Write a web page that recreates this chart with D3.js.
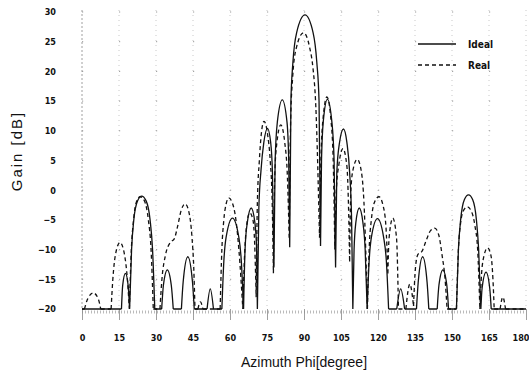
<!DOCTYPE html>
<html>
<head>
<meta charset="utf-8">
<script src="https://cdn.jsdelivr.net/npm/d3@7"></script>
<style>
  body { margin: 0; background: #fff; }
  svg { display: block; }
  .tick-label { font-family: "Liberation Sans Narrow", "DejaVu Sans Condensed", sans-serif; font-size: 9px; font-weight: bold; fill: #111; }
  .title { font-family: "Liberation Sans", Arial, sans-serif; font-size: 14px; fill: #111; }
</style>
</head>
<body>
<svg id="chart" width="529" height="378"></svg>
<script>
// tick values
var xTicks = [0, 15, 30, 45, 60, 75, 90, 105, 120, 135, 150, 165, 180];
var yTicks = [-20, -15, -10, -5, 0, 5, 10, 15, 20, 25, 30];

// [azimuth deg, gain dB]
var ideal = [
  [0, -20], [16, -20],
  [16.5, -16], [17.6, -14], [18.7, -16], [19.3, -20],
  [20.1, -10], [21, -5], [22.5, -1.8], [24.2, -1], [26, -1.8], [27.6, -5], [28.6, -10], [29.5, -20],
  [32.3, -20], [33, -16], [34.6, -13.4], [36.2, -16], [37, -20],
  [40.3, -20], [41, -15.5], [42.9, -11.2], [44.8, -15.5], [45.5, -20],
  [50.7, -20], [52, -16.6], [53.3, -20],
  [56.7, -20], [57.5, -12], [58.4, -8], [61, -4.7], [63.6, -8], [64.6, -12], [65.5, -20],
  [66.1, -10], [67, -5.5], [68.6, -3], [70.1, -5.5], [70.8, -10], [71.1, -20],
  [71.7, -3], [72.6, 3.5], [73.7, 8], [75.2, 10.4], [76.5, 8], [77.2, 3], [77.8, -13],
  [78.3, 5], [79.2, 11.5], [81.2, 15.2], [83.1, 11.5], [83.8, 5], [84.2, -9.6],
  [84.7, 15], [85.5, 21.5], [87, 26.5], [90.4, 29.5], [93.7, 26.5], [95.2, 21.5], [96.1, 15], [96.7, -9.4],
  [97.1, 5], [97.8, 11.5], [99.5, 15.3], [101.3, 11.5], [102.2, 5], [102.8, -13],
  [103.3, 3], [104.4, 8], [106, 10.3], [107.4, 8], [108.5, 3], [109.3, -5], [109.8, -20],
  [110.3, -10], [111, -5.5], [112.4, -3], [113.9, -5.5], [114.8, -10], [115.6, -20],
  [116.4, -12], [117.3, -8], [119.8, -4.8], [122.3, -8], [123.4, -12], [124.3, -20],
  [127.6, -20], [129.2, -16.6], [130.8, -20],
  [135.6, -20], [136.3, -15.5], [138.1, -11.2], [139.9, -15.5], [140.6, -20],
  [144, -20], [144.7, -16], [146.3, -13.4], [147.9, -16], [148.6, -20],
  [151.8, -20], [152.6, -10], [153.5, -5], [155, -1.6], [156.7, -0.8], [158.4, -1.6], [159.9, -5], [160.8, -10], [161.7, -20],
  [162.2, -16.5], [163.8, -13.8], [165.3, -16.5], [165.9, -20],
  [180, -20]
];

var real = [
  [0, -20], [1, -20],
  [2.3, -18.3], [4.6, -17.3], [6.6, -18.3], [7.6, -20],
  [11.8, -20], [12.5, -15], [13.5, -11], [15.4, -8.8], [17.3, -11], [18.4, -15], [19.2, -20],
  [20, -10], [20.9, -5], [22.2, -1.8], [23.6, -1.1], [25.3, -1.8], [26.9, -5], [28, -10], [28.9, -20],
  [31.6, -20], [32.4, -15], [33.8, -11], [35.8, -8.8], [37.4, -8.2], [38.8, -6], [40.2, -3.4], [41.8, -2.3], [43.3, -3.6], [44.6, -8], [45.3, -13], [45.8, -20],
  [47, -20], [48, -18.8], [49, -20],
  [56, -20], [56.7, -10], [57.5, -5], [58.5, -2.2], [59.5, -1.3], [61, -2.2], [62.4, -5], [63.6, -10], [65.2, -20],
  [65.8, -12], [66.6, -6.5], [68, -3.8], [69.3, -5], [70, -9], [70.6, -18],
  [71.1, -2], [71.9, 5], [72.7, 9.5], [73.8, 11.6], [75.2, 9.5], [76.3, 5], [77.1, -2], [77.6, -14],
  [78.1, 2], [79, 8], [80.6, 11], [82.2, 8], [83.3, 2], [84, -8],
  [84.6, 12], [85.4, 19], [86.8, 23.8], [89.8, 26.5], [92.3, 24], [93.6, 20.7], [94.8, 14], [96.3, -8],
  [96.8, 4], [97.6, 11.5], [99.3, 15.7], [101, 11.5], [101.9, 4], [102.5, -10],
  [103.1, 0], [104.2, 4.5], [105.8, 7], [107.4, 4], [108, -2], [108.5, -12],
  [109, 0], [109.9, 3.5], [111.6, 5.2], [113.3, 3], [114.3, -2], [115.7, -20],
  [116.4, -10], [117.3, -5], [118.8, -1.8], [120.4, -1.1], [122, -2.5], [123.2, -6], [124, -14],
  [124.5, -8], [126, -4.7], [127.5, -8], [128.3, -20],
  [131.3, -20], [132.9, -15.8], [134.4, -19.5],
  [135.2, -13], [136.2, -10.8], [137.8, -10.3], [139.5, -8.5], [141.3, -6.8], [143, -6.4], [144.6, -7.5], [146, -11], [147.2, -15], [148, -20],
  [151.8, -20], [152.6, -10], [153.5, -5.5], [154.8, -3.3], [156.2, -2.8], [157.8, -3.5], [159.3, -6], [160.4, -10], [161.3, -20],
  [162, -14], [163, -11], [164.4, -9.7], [165.8, -11], [166.6, -15], [167.1, -20],
  [169.5, -20], [170.6, -18], [171.7, -20],
  [180, -20]
];

var seriesNames = ["Ideal", "Real"];

var svg = d3.select("#chart");

var x = d3.scaleLinear().domain([0, 180]).range([82, 526]);
var y = d3.scaleLinear().domain([-20, 30]).range([309, 12]);

// grid
var grid = svg.append("g");
grid.selectAll("line.vg")
  .data(xTicks)
  .enter().append("line")
  .attr("x1", function (d) { return x(d); })
  .attr("x2", function (d) { return x(d); })
  .attr("y1", 10)
  .attr("y2", y(-20))
  .attr("stroke", function (d) { return d === 0 ? "#888" : "#bbb"; })
  .attr("stroke-width", 0.8)
  .attr("stroke-dasharray", function (d) { return d === 0 ? "2,2" : "1,4"; });

grid.selectAll("line.hg")
  .data(yTicks.filter(function (d) { return d > -20; }))
  .enter().append("line")
  .attr("x1", x(0))
  .attr("x2", x(180))
  .attr("y1", function (d) { return y(d); })
  .attr("y2", function (d) { return y(d); })
  .attr("stroke", "#999")
  .attr("stroke-width", 1)
  .attr("stroke-dasharray", "1.2," + (x(15) - x(0) - 1.2));

// hatched strip under the floor
svg.append("line")
  .attr("x1", x(0)).attr("x2", x(180))
  .attr("y1", y(-20) + 3).attr("y2", y(-20) + 3)
  .attr("stroke", "#bbb")
  .attr("stroke-width", 3)
  .attr("stroke-dasharray", "1,2");

// x axis ticks + labels
var xAxis = d3.axisBottom(x).tickValues(xTicks).tickSize(11).tickFormat(d3.format("d"));
var gx = svg.append("g")
  .attr("transform", "translate(0," + y(-20) + ")")
  .call(xAxis);
gx.select(".domain").remove();
gx.selectAll(".tick line").attr("stroke", "#888").attr("stroke-width", 0.8);
gx.selectAll(".tick text")
  .attr("class", "tick-label")
  .attr("y", 29)
  .attr("dy", "0.35em")
  .attr("text-anchor", function (d) { return d === 180 ? "end" : "middle"; })
  .attr("x", function (d) { return d === 180 ? 3 : 0; });

// y axis labels
var yAxis = d3.axisLeft(y).tickValues(yTicks).tickSize(0).tickPadding(0).tickFormat(d3.format("d"));
var gy = svg.append("g")
  .attr("transform", "translate(56,0)")
  .call(yAxis);
gy.select(".domain").remove();
gy.selectAll(".tick text").attr("class", "tick-label").attr("x", 0);

// split a series at every local minimum so nulls stay sharp
function pathFor(pts) {
  var cuts = [];
  for (var i = 0; i < pts.length; i++) {
    var prev = i > 0 ? pts[i - 1][1] : Infinity;
    var next = i < pts.length - 1 ? pts[i + 1][1] : Infinity;
    if (pts[i][1] <= prev && pts[i][1] <= next) cuts.push(i);
  }
  var curved = d3.line()
    .x(function (d) { return x(d[0]); })
    .y(function (d) { return y(d[1]); })
    .curve(d3.curveMonotoneX);
  var straight = d3.line()
    .x(function (d) { return x(d[0]); })
    .y(function (d) { return y(d[1]); });
  var out = "";
  for (var k = 0; k < cuts.length - 1; k++) {
    var seg = pts.slice(cuts[k], cuts[k + 1] + 1);
    out += seg.length > 2 ? curved(seg) : straight(seg);
  }
  return out;
}

svg.append("path")
  .attr("d", pathFor(real))
  .attr("fill", "none")
  .attr("stroke", "#111")
  .attr("stroke-width", 1.3)
  .attr("stroke-dasharray", "4,3");

svg.append("path")
  .attr("d", pathFor(ideal))
  .attr("fill", "none")
  .attr("stroke", "#111")
  .attr("stroke-width", 1.3);

// legend
var legend = svg.append("g")
  .selectAll("g")
  .data(seriesNames)
  .enter().append("g")
  .attr("transform", function (d, i) { return "translate(418," + (44 + i * 21) + ")"; });

legend.append("line")
  .attr("x1", 0).attr("x2", 38)
  .attr("stroke", "#111")
  .attr("stroke-width", 1.3)
  .attr("stroke-dasharray", function (d, i) { return i === 1 ? "4,3" : null; });

legend.append("text")
  .attr("class", "tick-label")
  .attr("x", 50)
  .attr("dy", "0.35em")
  .style("font-size", "10px")
  .text(function (d) { return d; });

// axis titles
svg.append("text")
  .attr("class", "title")
  .attr("x", 304)
  .attr("y", 367)
  .attr("text-anchor", "middle")
  .text("Azimuth Phi[degree]");

svg.append("text")
  .attr("class", "title")
  .attr("transform", "translate(22,151) rotate(-90)")
  .attr("text-anchor", "middle")
  .style("font-size", "15px")
  .style("letter-spacing", "2px")
  .text("Gain [dB]");
</script>
</body>
</html>
